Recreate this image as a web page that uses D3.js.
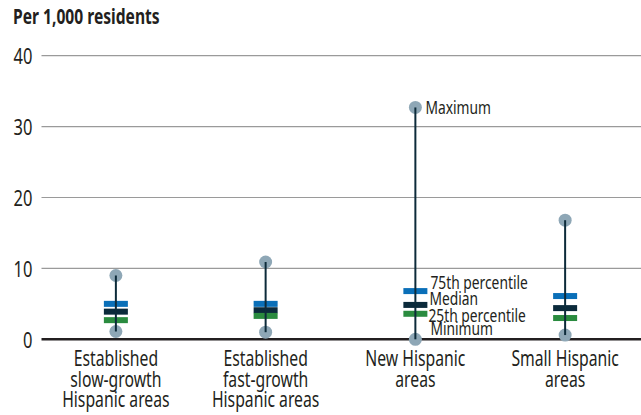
<!DOCTYPE html>
<html><head><meta charset="utf-8">
<script src="https://cdn.jsdelivr.net/npm/d3@7"></script>
<style>
body{margin:0;background:#fff;}
text{font-family:"Noto Sans","Open Sans",sans-serif;fill:#231f20;}
</style></head><body>
<svg id="c" width="641" height="415"></svg>
<script>
const categories = [["Established","slow-growth","Hispanic areas"],["Established","fast-growth","Hispanic areas"],["New Hispanic","areas"],["Small Hispanic","areas"]];
const maxVals = [9.0, 10.9, 32.7, 16.8];
const p75Vals = [5.0, 5.0, 6.8, 6.1];
const medianVals = [3.9, 4.1, 4.85, 4.4];
const p25Vals = [2.7, 3.3, 3.6, 3.0];
const minVals = [1.1, 1.0, 0.0, 0.6];
const yTicks = [0, 10, 20, 30, 40];
const legendLabels = {max:"Maximum", p75:"75th percentile", median:"Median", p25:"25th percentile", min:"Minimum"};

const svg = d3.select("#c");
const y = d3.scaleLinear().domain([0,40]).range([339.3,55.7]);
const x = d3.scaleBand().domain(d3.range(4)).range([41,640]);
const cx = i => x(i) + x.bandwidth()/2;
const SX = 0.75;

function ctext(px, py, size, str, anchor, sx, weight){
  return svg.append("text")
    .attr("transform", `translate(${px},${py}) scale(${sx||SX},1)`)
    .attr("font-size", size).attr("text-anchor", anchor||"start")
    .attr("font-weight", weight||"normal").text(str);
}

ctext(13, 24, 22, "Per 1,000 residents", "start", 0.71, "bold");

// grid
yTicks.forEach(t=>{
  svg.append("line").attr("x1",41.5).attr("x2",641).attr("y1",y(t)).attr("y2",y(t))
    .attr("stroke", t===0?"#231f20":"#9a9a9a").attr("stroke-width", t===0?2.6:1.2);
  ctext(32.5, y(t)+8.5, 22, t, "end");
});

const idx = d3.range(4);
// dots
[maxVals,minVals].forEach(arr=>{
  svg.selectAll(null).data(idx).join("circle")
    .attr("cx",cx).attr("cy",i=>y(arr[i])).attr("r",6.5).attr("fill","#8ea7b6");
});
// bars
const bw=24, bh=6;
[[p75Vals,"#0a6fb8"],[medianVals,"#0b2a3b"],[p25Vals,"#2a8b3f"]].forEach(([arr,col])=>{
  svg.selectAll(null).data(idx).join("rect")
    .attr("x",i=>cx(i)-bw/2).attr("y",i=>y(arr[i])-bh/2).attr("width",bw).attr("height",bh).attr("fill",col);
});
// whiskers
svg.selectAll(".wh").data(idx).join("line")
  .attr("x1",cx).attr("x2",cx).attr("y1",i=>y(minVals[i])).attr("y2",i=>y(maxVals[i]))
  .attr("stroke","#0d2b3a").attr("stroke-width",2);

// category labels
idx.forEach(i=>{
  const t = svg.append("text").attr("transform",`translate(${cx(i)},366) scale(${SX},1)`)
    .attr("text-anchor","middle").attr("font-size",21);
  categories[i].forEach((l,k)=>t.append("tspan").attr("x",0).attr("dy",k?20.5:0).text(l));
});

// annotations on New Hispanic areas
const a = 2, ax = cx(a), AS = 17.5, AX = 0.79;
ctext(ax+10, y(maxVals[a])+7, AS, legendLabels.max, "start", AX);
ctext(ax+15, 288.5, AS, legendLabels.p75, "start", AX);
ctext(ax+14, 305, AS, legendLabels.median, "start", AX);
ctext(ax+13, 321.5, AS, legendLabels.p25, "start", AX);
ctext(ax+15, 335, AS, legendLabels.min, "start", AX);
</script>
</body></html>
